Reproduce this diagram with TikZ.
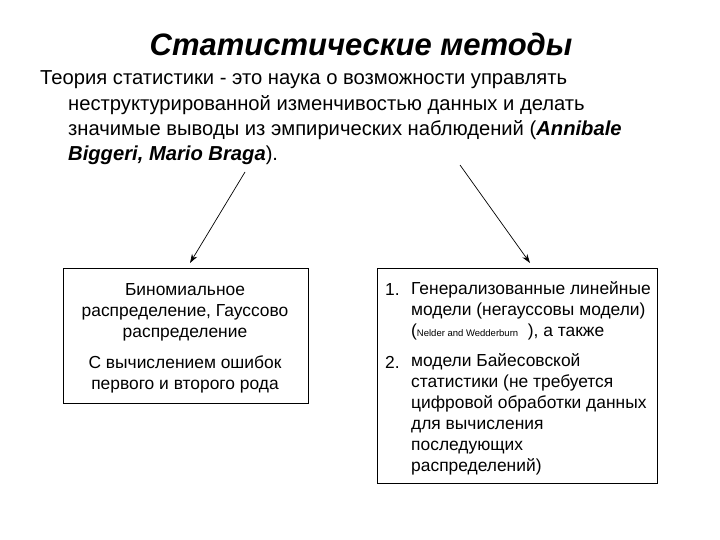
\documentclass[tikz,border=0pt]{standalone}
\usepackage{fontspec}
\setmainfont{Liberation Sans}
\usetikzlibrary{arrows.meta}
\begin{document}
\begin{tikzpicture}[x=1pt,y=-1pt,
  txt/.style={anchor=west,inner sep=0pt,font=\fontsize{20.2}{22}\selectfont},
  btxt/.style={inner sep=0pt,font=\fontsize{17.4}{21}\selectfont},
  box/.style={draw,line width=0.7pt},
  arr/.style={-{Stealth[length=9pt,width=6pt]},line width=0.7pt}]
\useasboundingbox (0,0) rectangle (720,540);
\node[inner sep=0pt,font=\fontsize{31}{34}\selectfont\bfseries\itshape] (title) at (361,44) {Статистические методы};
\node[txt] (l1) at (40,80) {Теория статистики - это наука о возможности управлять};
\node[txt] (l2) at (68,105) {неструктурированной изменчивостью данных и делать};
\node[txt] (l3) at (68,130) {значимые выводы из эмпирических наблюдений (\textbf{\textit{Annibale}}};
\node[txt] (l4) at (68,155) {\textbf{\textit{Biggeri, Mario Braga}}).};
\node[box,minimum width=245pt,minimum height=135pt] (lb) at (185.5,335.5) {};
\node[box,minimum width=280pt,minimum height=215pt] (rb) at (517,375.5) {};
\node[btxt,align=center] (lt1) at (185,312) {Биномиальное\\распределение, Гауссово\\распределение};
\node[btxt,align=center] (lt2) at (185,374) {С вычислением ошибок\\первого и второго рода};
\node[btxt,anchor=west] (n1) at (385,290) {1.};
\node[btxt,anchor=north west,align=left] (r1) at (411,281) {Генерализованные линейные\\модели (негауссовы модели)\\(\fontsize{9.5}{10}\selectfont Nelder and Wedderburn\fontsize{17.4}{21}\selectfont\ \ ), а также};
\node[btxt,anchor=west] (n2) at (385,362) {2.};
\node[btxt,anchor=north west,align=left] (r2) at (411,353) {модели Байесовской\\статистики (не требуется\\цифровой обработки данных\\для вычисления\\последующих\\распределений)};
\coordinate (a1) at (245,172);
\coordinate (a2) at (460,165);
\draw[arr] (a1) -- (190,263);
\draw[arr] (a2) -- (530,263);
\end{tikzpicture}
\end{document}
